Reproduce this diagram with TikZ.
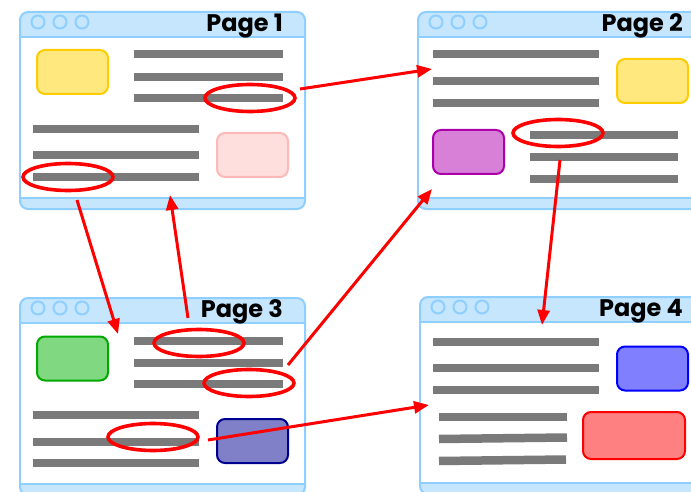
\documentclass[tikz,border=0pt]{standalone}
\usepackage{fontspec}
\setmainfont{Poppins}
\usetikzlibrary{shapes.geometric,arrows.meta}
\definecolor{winline}{HTML}{8ECFFF}
\definecolor{winfill}{HTML}{C5E6FD}
\definecolor{bargray}{HTML}{7A7A7A}
\definecolor{yb}{HTML}{FFCC00}\definecolor{yf}{HTML}{FFE97F}
\definecolor{pb}{HTML}{FFB8B8}\definecolor{pf}{HTML}{FFDEDE}
\definecolor{mb}{HTML}{AA00AA}\definecolor{mf}{HTML}{D880D8}
\definecolor{gb}{HTML}{00AA00}\definecolor{gf}{HTML}{80D880}
\definecolor{nb}{HTML}{000090}\definecolor{nf}{HTML}{8080C8}
\definecolor{lb}{HTML}{0000FF}\definecolor{lf}{HTML}{8080FF}
\definecolor{rb}{HTML}{FF0000}\definecolor{rf}{HTML}{FF8080}
\tikzset{
  win/.style={draw=winline, fill=winfill, line width=2pt, rounded corners=8pt, minimum width=285pt, minimum height=197pt, anchor=north west, inner sep=0pt},
  winbody/.style={draw=winline, fill=white, line width=2pt, minimum width=285pt, minimum height=161pt, anchor=north west, inner sep=0pt},
  dot/.style={draw=winline, line width=2pt, circle, minimum size=13pt, inner sep=0pt},
  ttl/.style={anchor=base east, inner sep=0pt, font=\fontsize{24}{24}\selectfont\bfseries},
  bar/.style={draw=bargray, line width=8.5pt},
  box/.style={rounded corners=8pt, line width=2pt, minimum width=71pt, minimum height=44pt, inner sep=0pt},
  ring/.style={ellipse, draw=red, line width=3.6pt, minimum width=90pt, minimum height=27pt, inner sep=0pt},
  arr/.style={draw=red, line width=3pt, -{Triangle[length=15pt,width=12pt]}},
}
\begin{document}
\begin{tikzpicture}[x=1pt,y=-1pt]
\useasboundingbox (0,0) rectangle (691,492);
\clip (0,0) rectangle (691,492);
% ---------- Page 1 ----------
\node[win] (p1) at (19,11) {};
\node[winbody] (b1) at (19,36) {};
\node[dot] (d1a) at (38,22) {};
\node[dot] (d1b) at (60,22) {};
\node[dot] (d1c) at (82,22) {};
\node[ttl] (t1) at (283,32) {Page 1};
\draw[bar] (134,54) -- (283,54);
\draw[bar] (134,77) -- (283,77);
\draw[bar] (134,98) -- (283,98);
\draw[bar] (33,129) -- (199,129);
\draw[bar] (33,155) -- (199,155);
\draw[bar] (33,177) -- (199,177);
\node[ring] (e1) at (250,98) {};
\node[ring] (e2) at (68,177) {};
% ---------- Page 2 ----------
\node[win] (p2) at (417,11) {};
\node[winbody] (b2) at (417,36) {};
\node[dot] (d2a) at (436,22) {};
\node[dot] (d2b) at (458,22) {};
\node[dot] (d2c) at (480,22) {};
\node[ttl] (t2) at (683,32) {Page 2};
\draw[bar] (433,54) -- (599,54);
\draw[bar] (433,81) -- (599,81);
\draw[bar] (433,103) -- (599,103);
\draw[bar] (530,135) -- (678,135);
\draw[bar] (530,157) -- (678,157);
\draw[bar] (530,179) -- (678,179);
\node[ring] (e3) at (558,133) {};
% ---------- Page 3 ----------
\node[win] (p3) at (19,297) {};
\node[winbody] (b3) at (19,322) {};
\node[dot] (d3a) at (38,308) {};
\node[dot] (d3b) at (60,308) {};
\node[dot] (d3c) at (82,308) {};
\node[ttl] (t3) at (283,317) {Page 3};
\draw[bar] (134,341) -- (283,341);
\draw[bar] (134,363) -- (283,363);
\draw[bar] (134,384) -- (283,384);
\draw[bar] (33,415) -- (199,415);
\draw[bar] (33,442) -- (199,442);
\draw[bar] (33,463) -- (199,463);
\node[ring] (e4) at (199,343) {};
\node[ring] (e5) at (249,383) {};
\node[ring] (e6) at (153,437) {};
% ---------- Page 4 ----------
\node[win] (p4) at (419,296) {};
\node[winbody] (b4) at (419,321) {};
\node[dot] (d4a) at (438,307) {};
\node[dot] (d4b) at (460,307) {};
\node[dot] (d4c) at (482,307) {};
\node[ttl] (t4) at (683,316) {Page 4};
\draw[bar] (433,342) -- (599,342);
\draw[bar] (433,368) -- (599,368);
\draw[bar] (433,390) -- (599,390);
\draw[bar] (439,417) -- (567,417);
\draw[bar] (439,439) -- (567,437.5);
\draw[bar] (439,461) -- (566,459.5);
% ---------- coloured boxes ----------
\node[box, draw=yb, fill=yf] (k1) at (72.5,72) {};
\node[box, draw=pb, fill=pf] (k2) at (252.5,155) {};
\node[box, draw=yb, fill=yf] (k3) at (652.5,81) {};
\node[box, draw=mb, fill=mf] (k4) at (468.5,152) {};
\node[box, draw=gb, fill=gf] (k5) at (72.5,358.5) {};
\node[box, draw=nb, fill=nf] (k6) at (252.5,441) {};
\node[box, draw=lb, fill=lf] (k7) at (652.5,368.5) {};
\node[box, draw=rb, fill=rf, minimum width=102pt, minimum height=47pt] (k8) at (634,435.5) {};
% ---------- arrows ----------
\coordinate (s1) at (300,89);   \coordinate (a1) at (432,69);
\coordinate (s2) at (77,200);   \coordinate (a2) at (118,334);
\coordinate (s3) at (188,318);  \coordinate (a3) at (170,195);
\coordinate (s4) at (288,365);  \coordinate (a4) at (432,189);
\coordinate (s5) at (208,440);  \coordinate (a5) at (429,405);
\coordinate (s6) at (560,160);  \coordinate (a6) at (542,325);
\draw[arr] (s1) -- (a1);
\draw[arr] (s2) -- (a2);
\draw[arr] (s3) -- (a3);
\draw[arr] (s4) -- (a4);
\draw[arr] (s5) -- (a5);
\draw[arr] (s6) -- (a6);
\end{tikzpicture}
\end{document}
